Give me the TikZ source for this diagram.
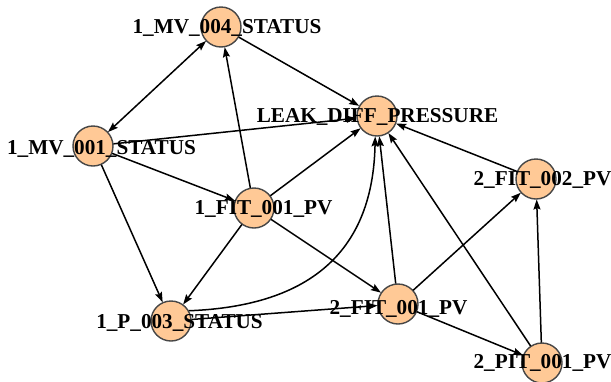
\documentclass[tikz,border=0pt]{standalone}
\usepackage{fontspec}
\setmainfont{Liberation Serif}
\usetikzlibrary{arrows.meta}
\definecolor{nodefill}{RGB}{255,201,150}
\definecolor{nodeline}{RGB}{70,70,70}
\tikzset{
  circ/.style={circle, draw=nodeline, line width=1.4pt, fill=nodefill, minimum size=40pt, inner sep=0pt, outer sep=0.5pt},
  lbl/.style={anchor=base, inner sep=0pt, font=\fontsize{21.2}{24}\selectfont\bfseries},
  edge/.style={line width=1.5pt, -{Stealth[length=10pt,width=7pt,inset=1.5pt]}},
  bidir/.style={line width=1.5pt, {Stealth[length=10pt,width=7pt,inset=1.5pt]}-{Stealth[length=10pt,width=7pt,inset=1.5pt]}}
}
\begin{document}
\begin{tikzpicture}[x=1pt,y=-1pt]
\useasboundingbox (0,0) rectangle (611,381);
% nodes
\node[circ] (mv004) at (221,27) {};
\node[circ] (leak) at (377,116) {};
\node[circ] (mv001) at (93,146) {};
\node[circ] (fit002) at (536,179) {};
\node[circ] (fit1) at (254,208) {};
\node[circ] (p003) at (171,321) {};
\node[circ] (fit2) at (398,304) {};
\node[circ] (pit) at (542,363) {};
% edges
\draw[bidir] (mv001) -- (mv004);
\draw[edge] (mv004) -- (leak);
\draw[edge] (mv001) -- (leak);
\draw[edge] (mv001) -- (fit1);
\draw[edge] (mv001) -- (p003);
\draw[edge] (fit1) -- (mv004);
\draw[edge] (fit1) -- (leak);
\draw[edge] (fit1) -- (p003);
\draw[edge] (fit1) -- (fit2);
\draw[edge] (p003.30) .. controls (313,306) and (373,249) .. (leak.265);
\draw[edge] (p003) -- (fit2);
\draw[edge] (fit2) -- (leak);
\draw[edge] (fit2) -- (fit002);
\draw[edge] (fit2) -- (pit);
\draw[edge] (pit) -- (fit002);
\draw[edge] (pit) -- (leak);
\draw[edge] (fit002) -- (leak);
% labels
\node[lbl] (mv004-l) at (227,33) {1\_MV\_004\_STATUS};
\node[lbl] (leak-l) at (377.5,122) {LEAK\_DIFF\_PRESSURE};
\node[lbl] (mv001-l) at (101.5,154) {1\_MV\_001\_STATUS};
\node[lbl] (fit002-l) at (542.5,185) {2\_FIT\_002\_PV};
\node[lbl] (fit1-l) at (263.5,214) {1\_FIT\_001\_PV};
\node[lbl] (p003-l) at (179.5,328) {1\_P\_003\_STATUS};
\node[lbl] (fit2-l) at (398.5,314) {2\_FIT\_001\_PV};
\node[lbl] (pit-l) at (542.5,368) {2\_PIT\_001\_PV};
\end{tikzpicture}
\end{document}
